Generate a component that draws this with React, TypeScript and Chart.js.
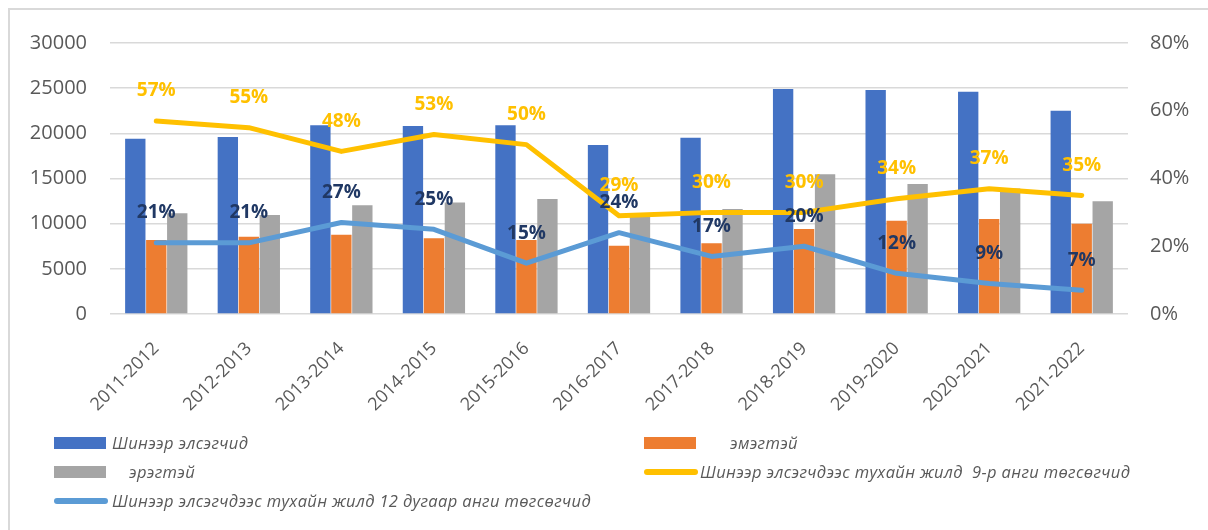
import React, { useEffect, useRef } from 'react';
import { Chart, registerables } from 'chart.js';

Chart.register(...registerables);

// ---------- data ----------
const categories = [
  '2011-2012', '2012-2013', '2013-2014', '2014-2015', '2015-2016', '2016-2017',
  '2017-2018', '2018-2019', '2019-2020', '2020-2021', '2021-2022',
];
const enrolled = [19400, 19600, 20900, 20800, 20900, 18700, 19500, 24900, 24800, 24600, 22500];
const female = [8200, 8550, 8780, 8380, 8200, 7560, 7830, 9410, 10330, 10520, 10000];
const male = [11150, 10960, 12030, 12330, 12740, 11100, 11630, 15470, 14400, 13900, 12480];
const grade9Pct = [57, 55, 48, 53, 50, 29, 30, 30, 34, 37, 35];
const grade12Pct = [21, 21, 27, 25, 15, 24, 17, 20, 12, 9, 7];

const leftTickMax = 30000;
const leftTickStep = 5000;
const rightTickMax = 80;
const rightTickStep = 20;

const seriesLabels = [
  'Шинээр элсэгчид',
  'эмэгтэй',
  'эрэгтэй',
  'Шинээр элсэгчдээс тухайн жилд  9-р анги төгсөгчид',
  'Шинээр элсэгчдээс тухайн жилд 12 дугаар анги төгсөгчид',
];
const seriesColors = ['#4472C4', '#ED7D31', '#A5A5A5', '#FFC000', '#5B9BD5'];
const pctLabelColors = ['#FFC000', '#203864'];

const FONT = '"Open Sans", "Noto Sans", sans-serif';

const lineLabelPlugin = {
  id: 'lineLabels',
  afterDatasetsDraw(chart: any) {
    const ctx = chart.ctx;
    chart.data.datasets.forEach((ds: any, i: number) => {
      if (ds.type !== 'line') return;
      const meta = chart.getDatasetMeta(i);
      ctx.save();
      ctx.font = `bold 19px ${FONT}`;
      ctx.fillStyle = ds.pctLabelColor;
      ctx.textAlign = 'center';
      ctx.textBaseline = 'middle';
      meta.data.forEach((pt: any, j: number) => {
        ctx.fillText(`${ds.data[j]}%`, pt.x, pt.y - 30);
      });
      ctx.restore();
    });
  },
};

type LegendItem = { idx: number; kind: 'box' | 'line'; x: number; y: number; textX: number };
const legendLayout: LegendItem[] = [
  { idx: 0, kind: 'box', x: 46, y: 435, textX: 104 },
  { idx: 1, kind: 'box', x: 636, y: 435, textX: 722 },
  { idx: 2, kind: 'box', x: 46, y: 464, textX: 121 },
  { idx: 3, kind: 'line', x: 636, y: 464, textX: 692 },
  { idx: 4, kind: 'line', x: 46, y: 493, textX: 104 },
];

export default function App() {
  const canvasRef = useRef<HTMLCanvasElement | null>(null);

  useEffect(() => {
    const canvas = canvasRef.current;
    if (!canvas) return;
    const chart = new Chart(canvas, {
      type: 'bar',
      data: {
        labels: categories,
        datasets: [
          {
            type: 'line',
            label: seriesLabels[4],
            data: grade12Pct,
            yAxisID: 'yPct',
            borderColor: seriesColors[4],
            borderWidth: 5,
            pointRadius: 0,
            tension: 0,
            borderJoinStyle: 'round',
            borderCapStyle: 'round',
            order: 0,
            pctLabelColor: pctLabelColors[1],
          } as any,
          {
            type: 'line',
            label: seriesLabels[3],
            data: grade9Pct,
            yAxisID: 'yPct',
            borderColor: seriesColors[3],
            borderWidth: 5,
            pointRadius: 0,
            tension: 0,
            borderJoinStyle: 'round',
            borderCapStyle: 'round',
            order: 1,
            pctLabelColor: pctLabelColors[0],
          } as any,
          {
            type: 'bar',
            label: seriesLabels[0],
            data: enrolled,
            yAxisID: 'y',
            backgroundColor: seriesColors[0],
            order: 5,
          },
          {
            type: 'bar',
            label: seriesLabels[1],
            data: female,
            yAxisID: 'y',
            backgroundColor: seriesColors[1],
            order: 5,
          },
          {
            type: 'bar',
            label: seriesLabels[2],
            data: male,
            yAxisID: 'y',
            backgroundColor: seriesColors[2],
            order: 5,
          },
        ],
      },
      options: {
        responsive: false,
        animation: false,
        devicePixelRatio: 1,
        layout: { padding: { top: 35, left: 0, right: 0, bottom: 0 } },
        datasets: {
          bar: { categoryPercentage: 0.68, barPercentage: 0.97 },
        },
        plugins: {
          legend: { display: false },
          tooltip: { enabled: false },
          title: { display: false },
        },
        scales: {
          x: {
            grid: { display: false, drawTicks: false },
            border: { display: false },
            ticks: {
              minRotation: 45,
              maxRotation: 45,
              padding: 24,
              color: '#595959',
              font: { family: FONT, size: 18 },
            },
            afterFit: (s: any) => {
              s.height = 114;
            },
          },
          y: {
            position: 'left',
            min: 0,
            max: leftTickMax,
            ticks: {
              stepSize: leftTickStep,
              padding: 23,
              color: '#595959',
              font: { family: FONT, size: 20 },
              callback: (v: any) => String(v),
            },
            grid: { color: '#D9D9D9', lineWidth: 1.5, drawTicks: false },
            border: { display: false },
            afterFit: (s: any) => {
              s.width = 102;
            },
          },
          yPct: {
            position: 'right',
            min: 0,
            max: rightTickMax,
            ticks: {
              stepSize: rightTickStep,
              padding: 22,
              color: '#595959',
              font: { family: FONT, size: 20 },
              callback: (v: any) => `${v}%`,
            },
            grid: { drawOnChartArea: false, drawTicks: false },
            border: { display: false },
            afterFit: (s: any) => {
              s.width = 80;
            },
          },
        },
      } as any,
      plugins: [lineLabelPlugin],
    });
    return () => chart.destroy();
  }, []);

  return (
    <div style={{ position: 'relative', width: 1200, height: 514, fontFamily: FONT }}>
      <div
        style={{
          position: 'fixed',
          left: 8,
          top: 8,
          width: 1220,
          height: 540,
          borderTop: '2px solid #D9D9D9',
          borderLeft: '2px solid #D9D9D9',
          boxSizing: 'border-box',
          pointerEvents: 'none',
        }}
      />
      <canvas
        ref={canvasRef}
        width={1200}
        height={420}
        style={{ position: 'absolute', left: 0, top: 0, width: 1200, height: 420 }}
      />
      {legendLayout.map((it) => (
        <React.Fragment key={it.idx}>
          {it.kind === 'box' ? (
            <div
              style={{
                position: 'absolute',
                left: it.x,
                top: it.y - 6,
                width: 52,
                height: 12,
                background: seriesColors[it.idx],
              }}
            />
          ) : (
            <div
              style={{
                position: 'absolute',
                left: it.x,
                top: it.y - 3,
                width: 54,
                height: 6,
                borderRadius: 3,
                background: seriesColors[it.idx],
              }}
            />
          )}
          <div
            style={{
              position: 'absolute',
              left: it.textX,
              top: it.y - 12,
              height: 24,
              lineHeight: '24px',
              fontSize: 16.5,
              letterSpacing: 0.35,
              fontStyle: 'italic',
              color: '#595959',
              whiteSpace: 'pre',
            }}
          >
            {seriesLabels[it.idx]}
          </div>
        </React.Fragment>
      ))}
    </div>
  );
}
